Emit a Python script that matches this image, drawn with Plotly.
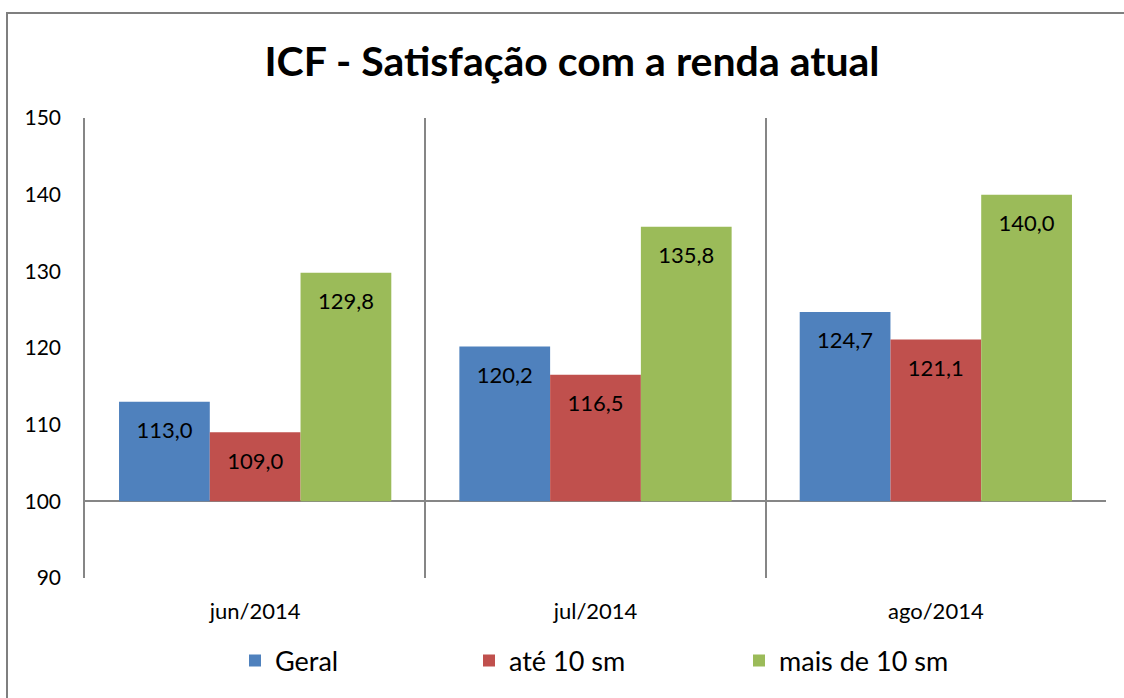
import plotly.graph_objects as go

categories = ["jun/2014", "jul/2014", "ago/2014"]
series_names = ["Geral", "até 10 sm", "mais de 10 sm"]
geral = [113.0, 120.2, 124.7]
ate_10 = [109.0, 116.5, 121.1]
mais_10 = [129.8, 135.8, 140.0]
colors = ["#4F81BD", "#C0504D", "#9BBB59"]
y_ticks = [90, 100, 110, 120, 130, 140, 150]

BASE = 100
BARGAP = 0.2
FONT = "Lato"
PLOT_W, PLOT_H = 1021, 460
L, T = 85, 118

series = [geral, ate_10, mais_10]
n = len(series)
bw = (1 - BARGAP) / n
xs = list(range(len(categories)))
legend_names = ["legend", "legend2", "legend3"]
legend_square_px = [246, 480, 750]

fig = go.Figure()
for j, (name, vals, col) in enumerate(zip(series_names, series, colors)):
    fig.add_trace(go.Bar(
        x=xs, y=[v - BASE for v in vals], base=BASE, name=name,
        marker=dict(color=col, line=dict(width=0)),
        hoverinfo="skip", legend=legend_names[j],
    ))
for j, vals in enumerate(series):
    fig.add_trace(go.Scatter(
        x=[i + (j - (n - 1) / 2) * bw for i in xs],
        y=[v - 4.0 for v in vals],
        mode="text",
        text=[f"{v:.1f}".replace(".", ",") for v in vals],
        textfont=dict(family=FONT, size=22, color="#000000"),
        showlegend=False, hoverinfo="skip", cliponaxis=False,
    ))

legend_y = (T + PLOT_H - 661) / PLOT_H
legend_common = dict(orientation="h", xanchor="left", y=legend_y, yanchor="middle",
                     font=dict(family=FONT, size=27), itemwidth=30,
                     bgcolor="rgba(0,0,0,0)")
legends = {}
for j, ln in enumerate(legend_names):
    legends[ln] = dict(legend_common, x=(legend_square_px[j] - 11 - L) / PLOT_W)

fig.update_layout(
    width=1124, height=698,
    margin=dict(l=L, r=1124 - L - PLOT_W, t=T, b=698 - T - PLOT_H, autoexpand=False),
    paper_bgcolor="white", plot_bgcolor="white",
    barmode="group", bargap=BARGAP, bargroupgap=0,
    font=dict(family=FONT, color="#000000"),
    title=dict(text="<b>ICF - Satisfação com a renda atual</b>",
               font=dict(family=FONT, size=41, color="#000000"),
               x=572 / 1124, xanchor="center", xref="container",
               y=1 - 62 / 698, yanchor="middle", yref="container"),
    xaxis=dict(range=[-0.5, 2.5], tickvals=xs, ticktext=categories,
               showgrid=False, zeroline=False, showline=False, automargin=False,
               tickfont=dict(family=FONT, size=22), ticks="", ticklabelstandoff=18,
               minor=dict(tickvals=[-0.5, 0.5, 1.5, 2.5], showgrid=True,
                          gridcolor="#868686", gridwidth=1.5, ticks="")),
    yaxis=dict(range=[90, 150], tickvals=y_ticks, showgrid=False, zeroline=False,
               showline=True, linecolor="#868686", linewidth=1.5, automargin=False,
               tickfont=dict(family=FONT, size=21), ticks="", ticklabelstandoff=18,
               minor=dict(tickvals=[BASE], showgrid=True, gridcolor="#868686",
                          gridwidth=1.5, ticks="")),
    shapes=[dict(type="rect", xref="paper", yref="paper",
                 x0=(7 - L) / PLOT_W, x1=(1130 - L) / PLOT_W,
                 y0=(T + PLOT_H - 705) / PLOT_H, y1=(T + PLOT_H - 13) / PLOT_H,
                 line=dict(color="#7F7F7F", width=2), fillcolor="rgba(0,0,0,0)",
                 layer="below")],
)
fig.update_layout(**legends)

fig.write_html("out.html", config={"displayModeBar": False},
               post_script="document.body.style.margin='0';document.body.style.padding='0';")
